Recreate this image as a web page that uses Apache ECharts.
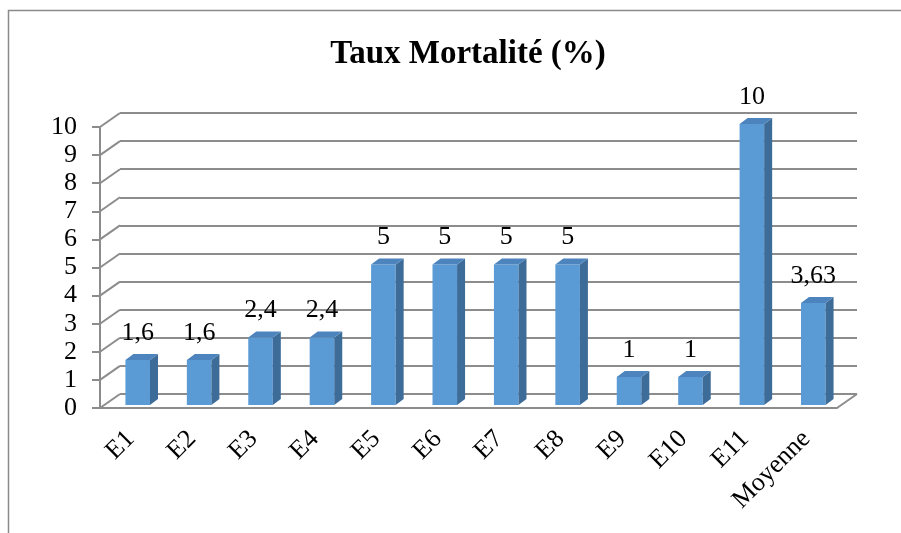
<!DOCTYPE html>
<html>
<head>
<meta charset="utf-8">
<script src="https://cdn.jsdelivr.net/npm/echarts@6/dist/echarts.min.js"></script>
<style>
  html, body { margin: 0; padding: 0; background: #fff; }
  #chart { width: 901px; height: 533px; }
</style>
</head>
<body>
<div id="chart"></div>
<script>
// données
var categories = ['E1', 'E2', 'E3', 'E4', 'E5', 'E6', 'E7', 'E8', 'E9', 'E10', 'E11', 'Moyenne'];
var mortalite = [1.6, 1.6, 2.4, 2.4, 5, 5, 5, 5, 1, 1, 10, 3.63];
var yTicks = [0, 1, 2, 3, 4, 5, 6, 7, 8, 9, 10];

var serif = 'Liberation Serif, Times New Roman, serif';
var grey = '#8c8c8c';
// décalage de profondeur (effet 3D)
var depthX = 20, depthY = -14;

var myChart = echarts.init(document.getElementById('chart'));

function wallItem(params, api) {
  var cs = params.coordSys;
  var v = api.value(0);
  var y = api.coord([0, v])[1];
  var children = [{
    type: 'line',
    shape: { x1: cs.x, y1: y, x2: cs.x + depthX, y2: y + depthY },
    style: { stroke: grey, lineWidth: 2 }
  }];
  if (v === 0) {
    // bord droit du plancher
    children.push({
      type: 'line',
      shape: { x1: cs.x + cs.width, y1: y, x2: cs.x + cs.width + depthX, y2: y + depthY },
      style: { stroke: grey, lineWidth: 2 }
    });
  }
  return { type: 'group', children: children };
}

function barItem(params, api) {
  var idx = api.value(0);
  var val = api.value(1);
  var base = api.coord([idx, 0]);
  var top = api.coord([idx, val]);
  var w = api.size([1, 0])[0] * 0.4;
  var cx = base[0] + 7;
  var x0 = cx - w / 2, x1 = cx + w / 2;
  var yb = base[1] - 3, yt = top[1] - 3;
  var dx = 8, dy = -6;
  var txt = String(mortalite[params.dataIndex]).replace('.', ',');
  return {
    type: 'group',
    children: [
      { type: 'rect', shape: { x: x0, y: yt, width: w, height: yb - yt },
        style: { fill: '#5b9bd5' } },
      { type: 'polygon', shape: { points: [[x1, yt], [x1 + dx, yt + dy], [x1 + dx, yb + dy], [x1, yb]] },
        style: { fill: '#3e6c99' } },
      { type: 'polygon', shape: { points: [[x0, yt], [x0 + dx, yt + dy], [x1 + dx, yt + dy], [x1, yt]] },
        style: { fill: '#4d84bd' } },
      { type: 'text', x: cx, y: yt + dy - 8,
        style: { text: txt, font: '26px ' + serif, fill: '#000', align: 'center', verticalAlign: 'bottom' } }
    ]
  };
}

var option = {
  animation: false,
  title: {
    text: 'Taux Mortalité (%)',
    left: 463,
    textAlign: 'center',
    top: 33,
    textStyle: { fontFamily: serif, fontSize: 33, fontWeight: 'bold', color: '#000' }
  },
  graphic: [{
    type: 'rect',
    shape: { x: 8.5, y: 10.5, width: 1000, height: 1000 },
    style: { fill: 'none', stroke: '#8a8a8a', lineWidth: 1.5 },
    z: -10
  }],
  grid: [
    { left: 100, right: 64, top: 127, bottom: 125 },
    { left: 100 + depthX, right: 64 - depthX, top: 127 + depthY, bottom: 125 - depthY }
  ],
  xAxis: [
    {
      type: 'category', gridIndex: 0, data: categories,
      axisLine: { lineStyle: { color: grey, width: 2 } },
      axisTick: { length: 10, lineStyle: { color: grey, width: 2 } },
      axisLabel: { rotate: 45, margin: 27, fontFamily: serif, fontSize: 26, color: '#000' }
    },
    { type: 'category', gridIndex: 1, data: categories, show: false }
  ],
  yAxis: [
    {
      type: 'value', gridIndex: 0, min: 0, max: 10, interval: 1,
      axisLine: { show: true, lineStyle: { color: grey, width: 2 } },
      axisTick: { show: true, length: 8, lineStyle: { color: grey, width: 2 } },
      splitLine: { show: false },
      axisLabel: { margin: 23, fontFamily: serif, fontSize: 26, color: '#000' }
    },
    {
      type: 'value', gridIndex: 1, min: 0, max: 10, interval: 1,
      axisLine: { show: false }, axisTick: { show: false }, axisLabel: { show: false },
      splitLine: { lineStyle: { color: grey, width: 2 } }
    }
  ],
  series: [
    {
      type: 'custom', xAxisIndex: 0, yAxisIndex: 0,
      renderItem: wallItem,
      data: yTicks.map(function (t) { return [t]; }),
      encode: { y: 0 },
      silent: true, z: 1
    },
    {
      type: 'custom', xAxisIndex: 0, yAxisIndex: 0,
      renderItem: barItem,
      data: mortalite.map(function (v, i) { return [i, v]; }),
      encode: { x: 0, y: 1 },
      z: 5
    }
  ]
};

myChart.setOption(option);
window.addEventListener('resize', function () { myChart.resize(); });
</script>
</body>
</html>
